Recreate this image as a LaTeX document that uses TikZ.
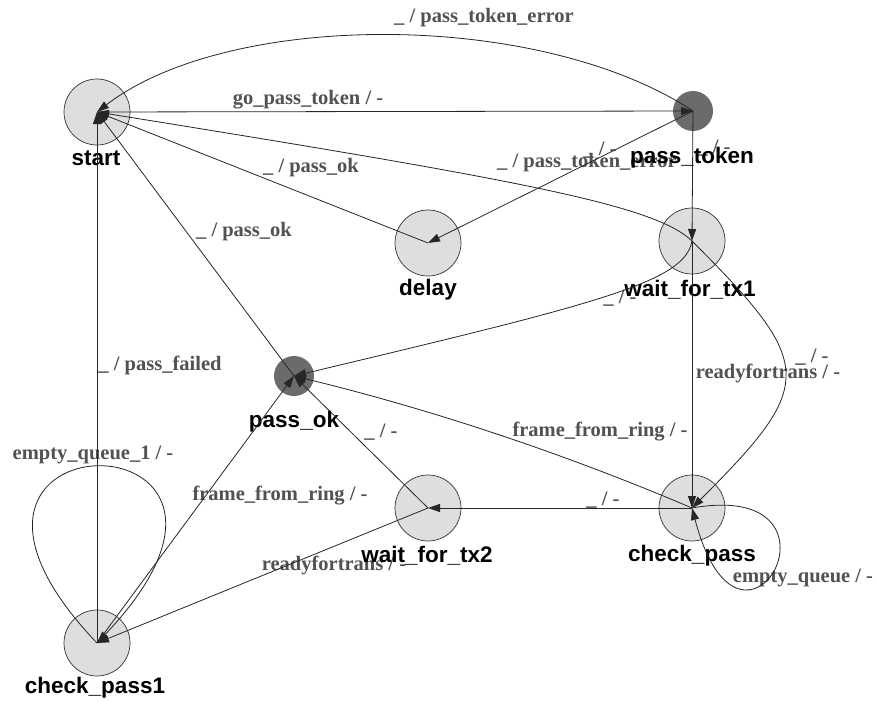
\documentclass[tikz,border=0pt]{standalone}
\usepackage{fontspec}
\setmainfont{Liberation Serif}
\newfontfamily\statefont{Liberation Sans}
\usetikzlibrary{arrows.meta}

\begin{document}
\begin{tikzpicture}[x=1pt,y=-1pt,
  lightstate/.style={circle, draw=black!80, line width=0.7pt, fill=black!13,
                     minimum size=66pt, inner sep=0pt},
  darkstate/.style={circle, fill=black!58, minimum size=40pt, inner sep=0pt},
  statename/.style={font=\statefont\bfseries\fontsize{22.5}{24}\selectfont,
                    text=black, inner sep=0pt},
  translabel/.style={font=\bfseries\fontsize{20.5}{22}\selectfont,
                     text=black!68, inner sep=0pt},
  trans/.style={draw=black!85, line width=0.8pt,
                -{Triangle[length=12pt,width=8pt]}},
]
\useasboundingbox (0,0) rectangle (876,704);
\fill[white] (0,0) rectangle (876,704);

% states
\node[lightstate] (start)      at (97,112)  {};
\node[darkstate]  (passtoken)  at (693,111) {};
\node[lightstate] (delay)      at (428,243) {};
\node[lightstate] (wait1)      at (692,241) {};
\node[darkstate]  (passok)     at (294,376) {};
\node[lightstate] (wait2)      at (428,508) {};
\node[lightstate] (check)      at (692,508) {};
\node[lightstate] (check1)     at (97,643)  {};

% transition labels
\node[translabel] (l-err-top)   at (484,18)  {\_ / pass\_token\_error};
\node[translabel] (l-go)        at (308,100) {go\_pass\_token / -};
\node[translabel] (l-delay-ok)  at (311,168) {\_ / pass\_ok};
\node[translabel] (l-err-mid)   at (587,163) {\_ / pass\_token\_error};
\node[translabel] (l-passok-ok) at (244,232) {\_ / pass\_ok};
\node[translabel] (l-failed)    at (160,365) {\_ / pass\_failed};
\node[translabel] (l-w1-ok)     at (620,298) {\_ / -};
\node[translabel] (l-ready1)    at (768,373) {readyfortrans / -};
\node[translabel] (l-curve)     at (812,357) {\_ / -};
\node[translabel] (l-frame)     at (600,432) {frame\_from\_ring / -};
\node[translabel] (l-cp-w2)     at (603,500) {\_ / -};
\node[translabel] (l-empty)     at (803,578) {empty\_queue / -};
\node[translabel] (l-w2-ok)     at (381,432) {\_ / -};
\node[translabel] (l-frame1)    at (280,496) {frame\_from\_ring / -};
\node[translabel] (l-ready2)    at (334,565) {readyfortrans / -};
\node[translabel] (l-empty1)    at (93,455)  {empty\_queue\_1 / -};
\node[translabel] (l-pt-delay)  at (600,150) {\_ / -};
\node[translabel] (l-pt-w1)     at (714,148) {\_ / -};

% state names
\node[statename] (n-start)     at (96,158)  {start};
\node[statename] (n-passtoken) at (692,158) {pass\_token};
\node[statename] (n-delay)     at (428,290) {delay};
\node[statename] (n-wait1)     at (690,290) {wait\_for\_tx1};
\node[statename] (n-passok)    at (294,422) {pass\_ok};
\node[statename] (n-wait2)     at (427,556) {wait\_for\_tx2};
\node[statename] (n-check)     at (692,556) {check\_pass};
\node[statename] (n-check1)    at (95,688)  {check\_pass1};

% transitions
\draw[trans] (start.center) -- (passtoken.center);
\draw[trans] (passtoken.center) .. controls (540,10) and (230,10) .. (start.center);
\draw[trans] (wait1.center) .. controls (655,205) and (520,180) .. (start.center);
\draw[trans] (delay.center) -- (start.center);
\draw[trans] (passtoken.center) -- (delay.center);
\draw[trans] (passtoken.center) -- (wait1.center);
\draw[trans] (wait1.center) -- (check.center);
\draw[trans] (wait1.center) .. controls (816,365) and (816,384) .. (check.center);
\draw[trans] (wait1.center) .. controls (685,282) and (600,303) .. (passok.center);
\draw[trans] (check.center) .. controls (563,453) and (430,409) .. (passok.center);
\draw[trans] (check.center) -- (wait2.center);
\draw[trans] (check.center) .. controls +(170,-30) and +(50,190) .. (check.center);
\draw[trans] (wait2.center) -- (passok.center);
\draw[trans] (wait2.center) -- (check1.center);
\draw[trans] (check1.center) -- (passok.center);
\draw[trans] (check1.center) .. controls +(-224,-235) and +(224,-235) .. (check1.center);
\draw[trans] (check1.center) -- (start.center);
\draw[trans] (passok.center) -- (start.center);
\end{tikzpicture}
\end{document}
